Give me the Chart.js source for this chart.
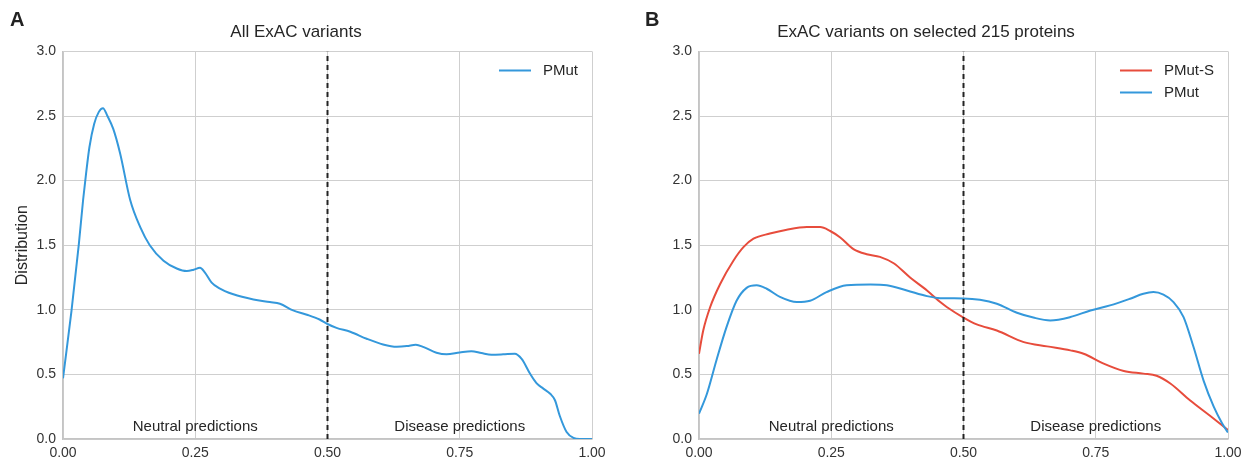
<!DOCTYPE html>
<html>
<head>
<meta charset="utf-8">
<script src="https://cdn.jsdelivr.net/npm/chart.js@4.4.0/dist/chart.umd.min.js"></script>
<style>
body{margin:0;background:#fff;width:1248px;height:461px;position:relative;overflow:hidden;font-family:"Liberation Sans",Arial,sans-serif}
.panel{position:absolute;top:0;width:624px;height:461px}
.tag{position:absolute;top:9px;font-weight:bold;font-size:20px;line-height:20px;color:#222}
</style>
</head>
<body>
<div class="panel" style="left:0"><canvas id="chartA" width="624" height="461"></canvas></div>
<div class="panel" style="left:624px"><canvas id="chartB" width="624" height="461"></canvas></div>
<div class="tag" style="left:10px">A</div>
<div class="tag" style="left:645px">B</div>
<script>
// score axis / density axis
var xTickValues = [0, 0.25, 0.5, 0.75, 1];
var xTickLabels = ["0.00", "0.25", "0.50", "0.75", "1.00"];
var yTickValues = [0, 0.5, 1, 1.5, 2, 2.5, 3];
var yTickLabels = ["0.0", "0.5", "1.0", "1.5", "2.0", "2.5", "3.0"];

// panel A: PMut on all ExAC variants
var allPmutX = [0, 0.016, 0.030, 0.038, 0.0435, 0.050, 0.059, 0.0675, 0.0756, 0.084, 0.095, 0.108, 0.127, 0.146, 0.164, 0.190, 0.215, 0.234, 0.247, 0.259, 0.268, 0.281, 0.294, 0.322, 0.360, 0.391, 0.410, 0.435, 0.461, 0.485, 0.500, 0.517, 0.543, 0.574, 0.605, 0.631, 0.650, 0.667, 0.682, 0.706, 0.725, 0.750, 0.772, 0.791, 0.810, 0.832, 0.854, 0.867, 0.883, 0.895, 0.908, 0.921, 0.930, 0.939, 0.952, 0.965, 0.977, 1.0];
var allPmutY = [0.47, 0.99, 1.51, 1.85, 2.05, 2.26, 2.44, 2.53, 2.56, 2.50, 2.40, 2.21, 1.85, 1.64, 1.50, 1.38, 1.32, 1.30, 1.31, 1.325, 1.29, 1.21, 1.17, 1.12, 1.08, 1.06, 1.047, 0.995, 0.962, 0.925, 0.89, 0.86, 0.83, 0.776, 0.732, 0.714, 0.719, 0.73, 0.711, 0.668, 0.655, 0.67, 0.68, 0.665, 0.652, 0.655, 0.66, 0.62, 0.505, 0.433, 0.39, 0.35, 0.30, 0.18, 0.054, 0.008, 0, 0];

// panel B: the 215 selected proteins
var selPmutSX = [0, 0.008, 0.021, 0.040, 0.065, 0.084, 0.103, 0.134, 0.166, 0.204, 0.229, 0.248, 0.267, 0.292, 0.317, 0.342, 0.368, 0.399, 0.431, 0.456, 0.469, 0.500, 0.525, 0.563, 0.614, 0.658, 0.702, 0.727, 0.765, 0.803, 0.840, 0.865, 0.891, 0.928, 0.966, 1.0];
var selPmutSY = [0.66, 0.84, 1.02, 1.20, 1.38, 1.485, 1.55, 1.59, 1.62, 1.64, 1.64, 1.61, 1.56, 1.47, 1.43, 1.41, 1.36, 1.25, 1.15, 1.06, 1.02, 0.94, 0.887, 0.84, 0.75, 0.717, 0.686, 0.66, 0.583, 0.526, 0.506, 0.49, 0.43, 0.30, 0.18, 0.07];
var selPmutX = [0, 0.015, 0.033, 0.052, 0.071, 0.090, 0.109, 0.128, 0.153, 0.185, 0.210, 0.241, 0.279, 0.324, 0.355, 0.393, 0.431, 0.456, 0.500, 0.531, 0.563, 0.601, 0.632, 0.664, 0.702, 0.740, 0.777, 0.815, 0.840, 0.859, 0.878, 0.897, 0.916, 0.935, 0.954, 0.973, 0.989, 1.0];
var selPmutY = [0.196, 0.35, 0.61, 0.866, 1.07, 1.17, 1.19, 1.163, 1.10, 1.06, 1.07, 1.137, 1.19, 1.196, 1.19, 1.15, 1.106, 1.09, 1.088, 1.078, 1.047, 0.977, 0.94, 0.918, 0.944, 0.995, 1.034, 1.086, 1.124, 1.137, 1.117, 1.06, 0.944, 0.71, 0.45, 0.25, 0.12, 0.05];

var thresholdX = [0.5, 0.5];
var thresholdY = [0, 3];

var regionLabels = [
  { text: "Neutral predictions", x: 0.25, y: 0.06 },
  { text: "Disease predictions", x: 0.75, y: 0.06 }
];

var BLUE = "#3498db";
var RED = "#e74c3c";

Chart.defaults.font.family = '"Liberation Sans", Arial, sans-serif';
Chart.defaults.color = "#333";

function points(xs, ys) {
  return xs.map(function (x, i) { return { x: x, y: ys[i] }; });
}

function curve(label, xs, ys, color) {
  return {
    label: label,
    data: points(xs, ys),
    borderColor: color,
    borderWidth: 2,
    pointRadius: 0,
    cubicInterpolationMode: "monotone",
    fill: false
  };
}

function threshold() {
  return {
    data: points(thresholdX, thresholdY),
    borderColor: "#222",
    borderWidth: 2,
    borderDash: [5, 4],
    pointRadius: 0,
    tension: 0
  };
}

// region captions + legend inside the plot area
var extras = {
  id: "extras",
  afterDatasetsDraw: function (chart, args, opts) {
    var ctx = chart.ctx, sx = chart.scales.x, sy = chart.scales.y, area = chart.chartArea;
    ctx.save();
    ctx.font = '15px "Liberation Sans", Arial, sans-serif';
    ctx.fillStyle = "#262626";
    ctx.textAlign = "center";
    ctx.textBaseline = "alphabetic";
    regionLabels.forEach(function (r) {
      ctx.fillText(r.text, sx.getPixelForValue(r.x), sy.getPixelForValue(r.y));
    });

    var w = 0;
    opts.items.forEach(function (l) { w = Math.max(w, ctx.measureText(l).width); });
    var x0 = area.right - 14 - w - 12 - 32;
    opts.items.forEach(function (l, i) {
      var ds = chart.data.datasets.find(function (d) { return d.label === l; });
      var y = area.top + 19 + i * 22;
      ctx.strokeStyle = ds.borderColor;
      ctx.lineWidth = 2;
      ctx.beginPath();
      ctx.moveTo(x0, y);
      ctx.lineTo(x0 + 32, y);
      ctx.stroke();
      ctx.textAlign = "left";
      ctx.textBaseline = "middle";
      ctx.fillText(l, x0 + 44, y);
    });
    ctx.restore();
  }
};

function makeChart(id, title, datasets, legendItems, yWidth, padRight, yTitle) {
  return new Chart(document.getElementById(id), {
    type: "line",
    data: { datasets: datasets },
    plugins: [extras],
    options: {
      responsive: false,
      animation: false,
      devicePixelRatio: 1,
      layout: { padding: { left: 0, right: padRight, top: 0, bottom: 0 } },
      plugins: {
        legend: { display: false },
        tooltip: { enabled: false },
        title: {
          display: true,
          text: title,
          color: "#262626",
          font: { size: 17, weight: "normal" },
          padding: { top: 22, bottom: 9 }
        },
        extras: { items: legendItems }
      },
      scales: {
        x: {
          type: "linear",
          min: 0,
          max: 1,
          afterBuildTicks: function (s) { s.ticks = xTickValues.map(function (v) { return { value: v }; }); },
          afterFit: function (s) { s.height = 22; },
          ticks: {
            padding: 6,
            font: { size: 14 },
            color: "#333",
            callback: function (v, i) { return xTickLabels[i]; }
          },
          grid: { color: "#cfcfcf", drawTicks: false },
          border: { color: "#c4c4c4", width: 1.5 }
        },
        y: {
          min: 0,
          max: 3,
          afterBuildTicks: function (s) { s.ticks = yTickValues.map(function (v) { return { value: v }; }); },
          afterFit: function (s) { s.width = yWidth; },
          ticks: {
            padding: 7,
            font: { size: 14 },
            color: "#333",
            callback: function (v, i) { return yTickLabels[i]; }
          },
          grid: { color: "#cfcfcf", drawTicks: false },
          border: { color: "#c4c4c4", width: 1.5 },
          title: {
            display: !!yTitle,
            text: yTitle || "",
            color: "#262626",
            font: { size: 16 },
            padding: { top: 13, bottom: 0 }
          }
        }
      }
    }
  });
}

makeChart("chartA", "All ExAC variants",
  [threshold(), curve("PMut", allPmutX, allPmutY, BLUE)],
  ["PMut"], 63, 32, "Distribution");

makeChart("chartB", "ExAC variants on selected 215 proteins",
  [threshold(), curve("PMut", selPmutX, selPmutY, BLUE), curve("PMut-S", selPmutSX, selPmutSY, RED)],
  ["PMut-S", "PMut"], 75, 20, null);
</script>
</body>
</html>
